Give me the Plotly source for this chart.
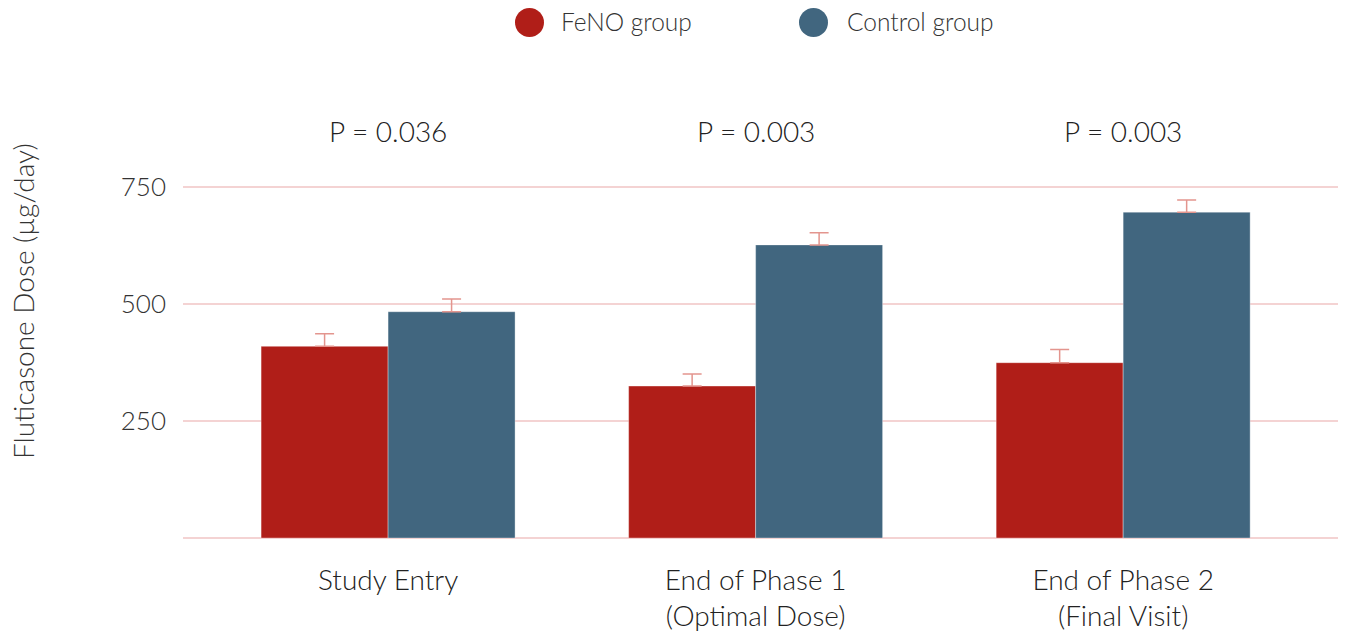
import plotly.graph_objects as go

categories = ["Study Entry", "End of Phase 1<br>(Optimal Dose)", "End of Phase 2<br>(Final Visit)"]
feno_values = [410, 325, 375]
feno_err = [27, 26, 28]
control_values = [484, 627, 697]
control_err = [27, 26, 26]
p_labels = ["P = 0.036", "P = 0.003", "P = 0.003"]
series_names = ["FeNO group", "Control group"]
tick_vals = [250, 500, 750]

RED = "#B01E18"
BLUE = "#41667F"
ERR = "#E3958E"
GRID = "#F4D3D3"
TXT = "#222222"
FONT = "Lato"
WEIGHT = 300

x_idx = list(range(len(categories)))

fig = go.Figure()
fig.add_trace(go.Bar(
    x=x_idx, y=feno_values, name=series_names[0], marker=dict(color=RED, line=dict(color="rgba(255,255,255,0.35)", width=1)),
    error_y=dict(type="data", array=feno_err, arrayminus=[0]*3, symmetric=False, color=ERR, thickness=1.5, width=9.5),
    showlegend=False,
))
fig.add_trace(go.Bar(
    x=x_idx, y=control_values, name=series_names[1], marker=dict(color=BLUE, line=dict(color="rgba(255,255,255,0.35)", width=1)),
    error_y=dict(type="data", array=control_err, arrayminus=[0]*3, symmetric=False, color=ERR, thickness=1.5, width=9.5),
    showlegend=False,
))

# figure is offset by 8px body margin in the page
OFF = 8
W, H = 1338, 626
ml, mr, mt, mb = 175, 6, 156, 96
plot_h = H - mt - mb
plot_w = W - ml - mr

def px_to_paper_x(px):
    return (px - OFF - ml) / plot_w

def px_to_paper_y(py):
    return (H - mb - (py - OFF)) / plot_h

for i, p in enumerate(p_labels):
    fig.add_annotation(x=i, y=px_to_paper_y(131), xref="x", yref="paper", text=p, showarrow=False,
                       font=dict(family=FONT, size=28, color=TXT, weight=WEIGHT),
                       xanchor="center", yanchor="middle")

fig.add_annotation(x=px_to_paper_x(23), y=px_to_paper_y(301), xref="paper", yref="paper",
                   text="Fluticasone Dose (µg/day)", showarrow=False, textangle=-90,
                   xanchor="center", yanchor="middle",
                   font=dict(family=FONT, size=28, color="#333333", weight=WEIGHT))

legend_items = [(529.5, 561, RED, series_names[0]), (813.5, 847, BLUE, series_names[1])]
for cx, tx, col, name in legend_items:
    fig.add_shape(type="circle", xref="paper", yref="paper", xsizemode="pixel", ysizemode="pixel",
                  xanchor=px_to_paper_x(cx), yanchor=px_to_paper_y(22.5), x0=-14.5, x1=14.5, y0=-14.5, y1=14.5,
                  fillcolor=col, line=dict(width=0))
    fig.add_annotation(x=px_to_paper_x(tx), y=px_to_paper_y(21), xref="paper", yref="paper", text=name,
                       showarrow=False, xanchor="left", yanchor="middle", xshift=-2,
                       font=dict(family=FONT, size=24.5, color="#333333", weight=WEIGHT))

fig.update_layout(
    width=W, height=H,
    margin=dict(l=ml, r=mr, t=mt, b=mb, autoexpand=False),
    plot_bgcolor="white", paper_bgcolor="white",
    barmode="group", bargap=0.309, bargroupgap=0,
    showlegend=False,
    font=dict(family=FONT, color=TXT, weight=WEIGHT),
    xaxis=dict(tickvals=x_idx, ticktext=categories, range=[-0.558, 2.59], showgrid=False,
               showline=False, zeroline=False, ticks="", ticklabelstandoff=23, automargin=False,
               tickfont=dict(family=FONT, size=28, color=TXT, weight=WEIGHT)),
    yaxis=dict(range=[0, 800], tickvals=tick_vals, showgrid=True, gridcolor=GRID, gridwidth=1.5,
               zeroline=True, zerolinecolor=GRID, zerolinewidth=1.5, showline=False,
               ticks="", ticklabelstandoff=16, automargin=False,
               tickfont=dict(family=FONT, size=26, color="#333333", weight=WEIGHT)),
)

fig.write_html("out.html")
